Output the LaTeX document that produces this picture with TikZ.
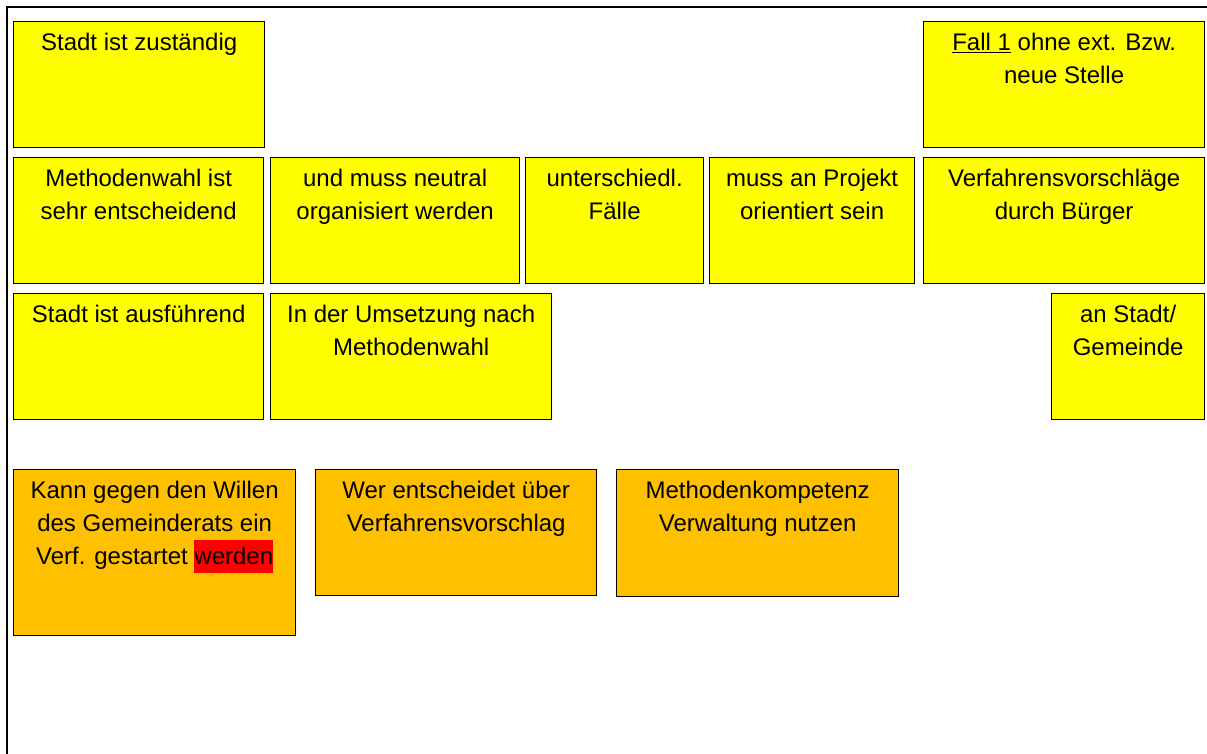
\documentclass[tikz,border=0pt]{standalone}
\usepackage{fontspec}
\setmainfont{Liberation Sans}
\definecolor{cardyellow}{HTML}{FFFF00}
\definecolor{cardorange}{HTML}{FFC000}
\definecolor{markred}{HTML}{FF0000}
\begin{document}
\begin{tikzpicture}[x=1pt, y=-1pt,
    card/.style = {draw, line width=1.3pt, anchor=north west, inner sep=0pt, fill=cardyellow},
    okcard/.style = {card, fill=cardorange},
    cardtext/.style = {anchor=north, align=center, inner sep=0pt, font=\fontsize{24}{33}\selectfont}]
    \useasboundingbox (0,0) rectangle (1207,754);
    \draw[line width=1.8pt] (7,754) -- (7,7) -- (1207,7);

    % erste Reihe
    \node[card, minimum width=251pt, minimum height=126pt] (zust) at (13,21) {};
    \node[card, minimum width=281pt, minimum height=126pt] (fall) at (923,21) {};
    \node[cardtext] (zust-t) at ([yshift=-12pt]zust.north) {Stadt ist zuständig};
    \node[cardtext] (fall-t) at ([yshift=-12pt]fall.north) {\underline{Fall 1} ohne ext. Bzw.\\neue Stelle};

    % zweite Reihe
    \node[card, minimum width=250pt, minimum height=126pt] (wahl) at (13,157) {};
    \node[card, minimum width=249pt, minimum height=126pt] (neutral) at (270,157) {};
    \node[card, minimum width=178pt, minimum height=126pt] (faelle) at (525,157) {};
    \node[card, minimum width=205pt, minimum height=126pt] (projekt) at (709,157) {};
    \node[card, minimum width=281pt, minimum height=126pt] (vorschlag) at (923,157) {};
    \node[cardtext] (wahl-t) at ([yshift=-12pt]wahl.north) {Methodenwahl ist\\sehr entscheidend};
    \node[cardtext] (neutral-t) at ([yshift=-12pt]neutral.north) {und muss neutral\\organisiert werden};
    \node[cardtext] (faelle-t) at ([yshift=-12pt]faelle.north) {unterschiedl.\\Fälle};
    \node[cardtext] (projekt-t) at ([yshift=-12pt]projekt.north) {muss an Projekt\\orientiert sein};
    \node[cardtext] (vorschlag-t) at ([yshift=-12pt]vorschlag.north) {Verfahrensvorschläge\\durch Bürger};

    % dritte Reihe
    \node[card, minimum width=250pt, minimum height=126pt] (ausf) at (13,293) {};
    \node[card, minimum width=281pt, minimum height=126pt] (umsetz) at (270,293) {};
    \node[card, minimum width=153pt, minimum height=126pt] (gemeinde) at (1051,293) {};
    \node[cardtext] (ausf-t) at ([yshift=-12pt]ausf.north) {Stadt ist ausführend};
    \node[cardtext] (umsetz-t) at ([yshift=-12pt]umsetz.north) {In der Umsetzung nach\\Methodenwahl};
    \node[cardtext] (gemeinde-t) at ([yshift=-12pt]gemeinde.north) {an Stadt/\\Gemeinde};

    % offene Fragen
    \node[okcard, minimum width=282pt, minimum height=166pt] (wille) at (13,469) {};
    \node[okcard, minimum width=281pt, minimum height=126pt] (wer) at (315,469) {};
    \node[okcard, minimum width=282pt, minimum height=127pt] (kompetenz) at (616,469) {};
    \node[cardtext] (wille-t) at ([yshift=-12pt]wille.north) {Kann gegen den Willen\\des Gemeinderats ein\\Verf. gestartet {\setlength{\fboxsep}{0pt}\colorbox{markred}{\rule[-8pt]{0pt}{33pt}werden}}};
    \node[cardtext] (wer-t) at ([yshift=-12pt]wer.north) {Wer entscheidet über\\Verfahrensvorschlag};
    \node[cardtext] (kompetenz-t) at ([yshift=-12pt]kompetenz.north) {Methodenkompetenz\\Verwaltung nutzen};
\end{tikzpicture}
\end{document}
